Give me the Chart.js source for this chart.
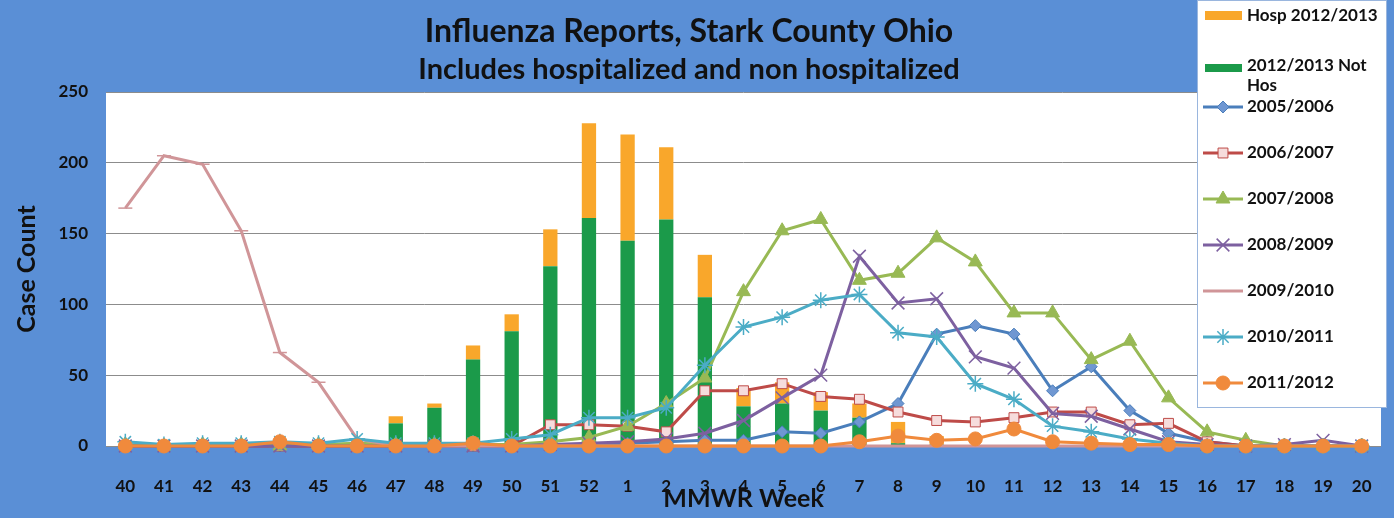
<!DOCTYPE html>
<html>
<head>
<meta charset="utf-8">
<title>Influenza Reports, Stark County Ohio</title>
<script src="https://cdn.jsdelivr.net/npm/chart.js@4"></script>
<style>
    html, body { margin: 0; padding: 0; background: #5a8fd6; }
    #wrap { position: relative; width: 1394px; height: 518px; }
</style>
</head>
<body>
<div id="wrap"><canvas id="fluChart" width="1394" height="518"></canvas></div>
<script>
// MMWR weeks, season runs from week 40 to week 20
const weeks = ["40","41","42","43","44","45","46","47","48","49","50","51","52",
               "1","2","3","4","5","6","7","8","9","10","11","12","13","14","15","16","17","18","19","20"];

const yTicks = [0, 50, 100, 150, 200, 250];

// 2012/2013 season, stacked bars
const notHosp1213 = [0,0,0,0,0,0,0,16,27,61,81,127,161,145,160,105,28,30,25,20,2,1,0,0,0,0,0,0,0,0,0,0,0];
const hosp1213    = [0,0,0,0,0,0,0,5,3,10,12,26,67,75,51,30,13,15,13,10,15,6,0,0,0,0,0,0,0,0,0,0,0];

// earlier seasons, lines
const s0506 = [0,0,0,0,0,0,0,0,0,0,0,0,1,2,3,4,4,10,9,17,30,79,85,79,39,56,25,9,3,0,0,0,0];
const s0607 = [0,0,0,0,0,0,0,0,0,0,0,15,15,14,10,39,39,44,35,33,24,18,17,20,24,24,15,16,3,0,0,0,0];
const s0708 = [1,0,1,1,0,1,2,1,1,1,1,3,6,14,30,48,109,152,160,117,122,147,130,94,94,61,74,34,10,4,0,0,0];
const s0809 = [0,0,0,0,0,0,0,0,0,0,0,1,2,3,5,9,18,34,50,134,101,104,63,55,23,21,12,3,1,0,1,4,0];
const s0910 = [168,205,199,152,66,45,5,0,0,0,0,0,0,0,0,0,0,0,0,0,0,0,0,0,0,0,0,0,0,0,0,0,0];
const s1011 = [3,1,2,2,3,2,5,2,2,2,5,8,20,20,27,57,84,91,103,107,80,77,44,33,14,10,5,2,0,0,0,0,0];
const s1112 = [0,0,0,0,3,0,0,0,0,2,0,0,0,0,0,0,0,0,0,3,7,4,5,12,3,2,1,1,0,0,0,0,0];

document.addEventListener("DOMContentLoaded", () => {

    const FONT = "Lato";
    const TXT = "#111111";

    // line series styling
    const lineSeries = [
        { label: "2005/2006", data: s0506, color: "#4a7ebb", fill: "#6f97d2", style: "rectRot", radius: 6 },
        { label: "2006/2007", data: s0607, color: "#be4b48", fill: "#f6dcdc", style: "rect", radius: 7 },
        { label: "2007/2008", data: s0708, color: "#98b954", fill: "#98b954", style: "triangle", radius: 8 },
        { label: "2008/2009", data: s0809, color: "#7d60a0", fill: "#7d60a0", style: "crossRot", radius: 9 },
        { label: "2009/2010", data: s0910, color: "#d09598", fill: "#d09598", style: "line", radius: 7 },
        { label: "2010/2011", data: s1011, color: "#4bacc6", fill: "#4bacc6", style: "star", radius: 8 },
        { label: "2011/2012", data: s1112, color: "#f08a3c", fill: "#f08a3c", style: "circle", radius: 7 }
    ];

    const datasets = [];

    lineSeries.forEach((s, i) => {
        datasets.push({
            type: "line",
            label: s.label,
            data: s.data,
            stack: "line" + i,
            order: 7 - i,               // later seasons drawn on top
            borderColor: s.color,
            borderWidth: 3,
            backgroundColor: s.fill,
            pointStyle: s.style,
            pointRadius: s.radius,
            pointBorderColor: s.color,
            pointBackgroundColor: s.fill,
            pointBorderWidth: (s.style === "crossRot" || s.style === "star" || s.style === "line") ? 1.5 : 1,
            tension: 0,
            clip: false
        });
    });

    datasets.push({
        type: "bar",
        label: "2012/2013 Not Hos",
        data: notHosp1213,
        stack: "bars",
        order: 20,
        backgroundColor: "#1b9a4a",
        barPercentage: 0.37,
        categoryPercentage: 1
    });
    datasets.push({
        type: "bar",
        label: "Hosp 2012/2013",
        data: hosp1213,
        stack: "bars",
        order: 20,
        backgroundColor: "#f9a72b",
        barPercentage: 0.37,
        categoryPercentage: 1
    });

    // blue background + white plot area + titles
    const backdrop = {
        id: "backdrop",
        beforeDraw(chart) {
            const { ctx, chartArea: a } = chart;
            ctx.save();
            ctx.fillStyle = "#5a8fd6";
            ctx.fillRect(0, 0, chart.width, chart.height);
            ctx.fillStyle = "#ffffff";
            ctx.fillRect(a.left, a.top, a.right - a.left, a.bottom - a.top);

            ctx.fillStyle = TXT;
            ctx.textAlign = "center";
            ctx.textBaseline = "middle";
            ctx.font = "bold 32px " + FONT;
            ctx.fillText("Influenza Reports, Stark County Ohio", 689, 32);
            ctx.font = "bold 29px " + FONT;
            ctx.fillText("Includes hospitalized and non hospitalized", 689, 70);
            ctx.restore();
        }
    };

    // legend box overlapping the top right corner
    const sideLegend = {
        id: "sideLegend",
        afterDatasetsDraw(chart) {
            const ctx = chart.ctx;
            const boxX = 1197, boxW = 190, boxH = 408;
            ctx.save();
            ctx.fillStyle = "#ffffff";
            ctx.fillRect(boxX, 0, boxW, boxH);
            ctx.strokeStyle = "#9ab6de";
            ctx.lineWidth = 1;
            ctx.strokeRect(boxX + 0.5, 0.5, boxW - 1, boxH - 1);

            ctx.font = "bold 17px " + FONT;
            ctx.fillStyle = TXT;
            ctx.textAlign = "left";
            ctx.textBaseline = "middle";

            const textX = 1247;

            // bar swatches
            ctx.fillStyle = "#f9a72b";
            ctx.fillRect(1205, 11, 37, 9);
            ctx.fillStyle = TXT;
            ctx.fillText("Hosp 2012/2013", textX, 16);

            ctx.fillStyle = "#1b9a4a";
            ctx.fillRect(1205, 64, 37, 8);
            ctx.fillStyle = TXT;
            ctx.fillText("2012/2013 Not", textX, 66);
            ctx.fillText("Hos", textX, 86);

            lineSeries.forEach((s, i) => {
                const y = 107 + i * 46;
                ctx.strokeStyle = s.color;
                ctx.lineWidth = 3;
                ctx.beginPath();
                ctx.moveTo(1203, y);
                ctx.lineTo(1243, y);
                ctx.stroke();

                ctx.fillStyle = s.fill;
                ctx.strokeStyle = s.color;
                ctx.lineWidth = (s.style === "crossRot" || s.style === "star" || s.style === "line") ? 1.5 : 1;
                Chart.helpers.drawPoint(ctx, {
                    pointStyle: s.style,
                    radius: s.radius,
                    rotation: 0,
                    borderWidth: ctx.lineWidth
                }, 1223, y);

                ctx.fillStyle = TXT;
                ctx.fillText(s.label, textX, y);
            });
            ctx.restore();
        }
    };

    new Chart(document.getElementById("fluChart"), {
        data: { labels: weeks, datasets: datasets },
        plugins: [backdrop, sideLegend],
        options: {
            responsive: false,
            animation: false,
            layout: { padding: { top: 92, right: 13, left: 0, bottom: 0 } },
            plugins: {
                legend: { display: false },
                tooltip: { enabled: false }
            },
            scales: {
                x: {
                    stacked: true,
                    grid: { display: false },
                    border: { display: false },
                    ticks: {
                        color: TXT,
                        font: { family: FONT, size: 17, weight: "bold" },
                        padding: 22,
                        maxRotation: 0,
                        autoSkip: false
                    },
                    title: {
                        display: true,
                        text: "MMWR Week",
                        color: TXT,
                        font: { family: FONT, size: 25, weight: "bold" },
                        padding: { top: 0, bottom: 4 }
                    },
                    afterFit(scale) {
                        scale.height = 72;
                        // tick padding must not squeeze the plot sideways
                        scale.paddingLeft = 0;
                        scale.paddingRight = 0;
                    }
                },
                y: {
                    stacked: true,
                    min: yTicks[0],
                    max: yTicks[yTicks.length - 1],
                    afterBuildTicks(scale) {
                        scale.ticks = yTicks.map(v => ({ value: v }));
                    },
                    grid: { color: "#8c8c8c", lineWidth: 1, drawTicks: false },
                    border: { display: false },
                    ticks: {
                        color: TXT,
                        font: { family: FONT, size: 17, weight: "bold" },
                        padding: 18
                    },
                    title: {
                        display: true,
                        text: "Case Count",
                        color: TXT,
                        font: { family: FONT, size: 25, weight: "bold" },
                        padding: { top: 12, bottom: 0 }
                    },
                    afterFit(scale) { scale.width = 106; }
                }
            }
        }
    });

});
</script>
</body>
</html>
